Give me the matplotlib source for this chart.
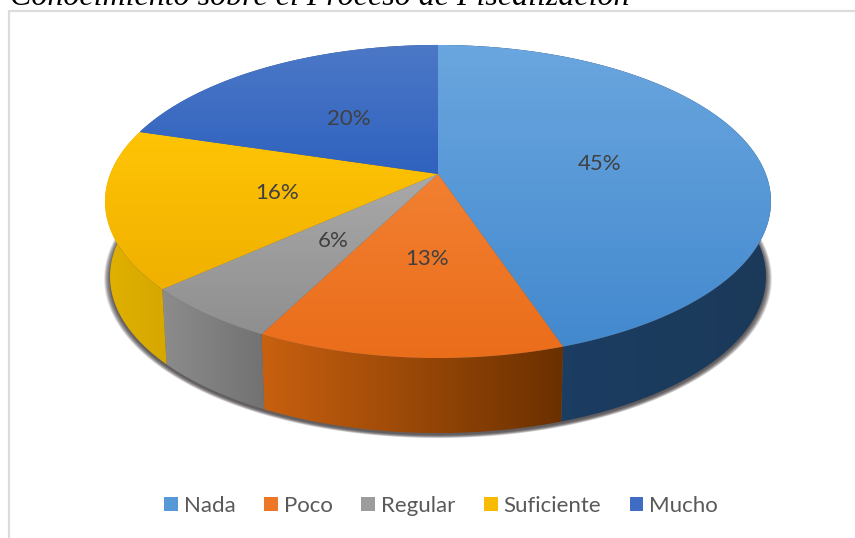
import numpy as np
import matplotlib
matplotlib.use("Agg")
import matplotlib.pyplot as plt
from matplotlib.patches import Polygon, Rectangle
from matplotlib.colors import to_rgb

categories = ["Nada", "Poco", "Regular", "Suficiente", "Mucho"]
shares = [44.85, 12.65, 5.8, 16.4, 20.3]
title = "Conocimiento sobre el Proceso de Fiscalización"

top_from = ["#6aa6df", "#f28032", "#a9a9a9", "#ffc405", "#4c78c6"]
top_to = ["#4389ce", "#ea6d1a", "#8f8f8f", "#f0b000", "#2f62bf"]
side_from = ["#1b3f66", "#c8600f", "#8c8c8c", "#e0b000", "#3a62a8"]
side_to = ["#1c3a5a", "#6b3000", "#727272", "#d6a800", "#2a4a80"]

CX, CY = 438.0, 174.0
A, B, K = 327.8, 151.7, 0.1757
DEPTH = 75.0
SHRINK = 0.985


def project(r, deg, lower=False):
    t = np.radians(deg)
    x, y = r * np.sin(t), r * np.cos(t)
    d = 1 + K * y
    px, py = A * x / d, B * y / d
    if lower:
        return CX + SHRINK * px, CY - py + DEPTH
    return CX + px, CY - py


def gradient(ax, poly, c0, c1, vertical, z):
    xs, ys = poly[:, 0], poly[:, 1]
    ramp = np.linspace(0, 1, 128)[:, None]
    rgb = (1 - ramp) * np.array(to_rgb(c0)) + ramp * np.array(to_rgb(c1))
    img = rgb[:, None, :] if vertical else rgb[None, :, :]
    im = ax.imshow(img, extent=(xs.min(), xs.max(), ys.max(), ys.min()),
                   aspect="auto", interpolation="bilinear", zorder=z)
    im.set_clip_path(Polygon(poly, closed=True, transform=ax.transData))


fig = plt.figure(figsize=(8.55, 5.38), dpi=100)
ax = fig.add_axes([0, 0, 1, 1])
ax.set_xlim(0, 855)
ax.set_ylim(538, 0)
ax.axis("off")
ax.set_autoscale_on(False)

ax.plot([9, 9, 855], [538, 11, 11], color="#dcdcdc", lw=1.6, zorder=1)
ax.text(10, 5, title, family="Liberation Serif", style="italic", fontsize=23,
        color="black", va="baseline", ha="left", clip_on=False)

# soft shadow under the pie
full = np.linspace(0, 360, 361)
bx, by = project(1, full, lower=True)
for g in np.linspace(1.018, 1.0, 14):
    sx = CX + (bx - CX) * g
    sy = by + 2 + (by - by.mean()) * (g - 1)
    ax.fill(sx, sy, color="#30282a", alpha=0.09, lw=0, zorder=2)

cum = np.concatenate([[0], np.cumsum(shares)]) / np.sum(shares) * 360

# side walls
for i in range(len(shares)):
    t = np.linspace(cum[i], cum[i + 1], 120)
    ux, uy = project(1, t)
    lx, ly = project(1, t, lower=True)
    poly = np.column_stack([np.r_[ux, lx[::-1]], np.r_[uy, ly[::-1]]])
    gradient(ax, poly, side_from[i], side_to[i], False, 3)

# top faces and labels
for i in range(len(shares)):
    t = np.linspace(cum[i], cum[i + 1], 200)
    ux, uy = project(1, t)
    poly = np.column_stack([np.r_[CX, ux], np.r_[CY, uy]])
    gradient(ax, poly, top_from[i], top_to[i], True, 4)
    mid = (cum[i] + cum[i + 1]) / 2
    lx, ly = project(0.5, mid)
    ax.text(lx + 2, ly + 2, f"{shares[i]:.0f}%", family="Lato", fontsize=16, color="#404040",
            ha="center", va="center", zorder=6)

handles = [Rectangle((0, 0), 1, 1, edgecolor="none",
                     facecolor=(np.array(to_rgb(top_from[i])) + np.array(to_rgb(top_to[i]))) / 2)
           for i in range(len(categories))]
leg = ax.legend(handles, categories, ncol=5, loc="center", bbox_to_anchor=(441, 506),
                bbox_transform=ax.transData, frameon=False,
                prop={"family": "Lato", "size": 16}, labelcolor="#595959",
                handlelength=0.62, handleheight=0.62, handletextpad=0.25,
                columnspacing=1.3, borderpad=0)
fig.savefig("out.png", dpi=100)
